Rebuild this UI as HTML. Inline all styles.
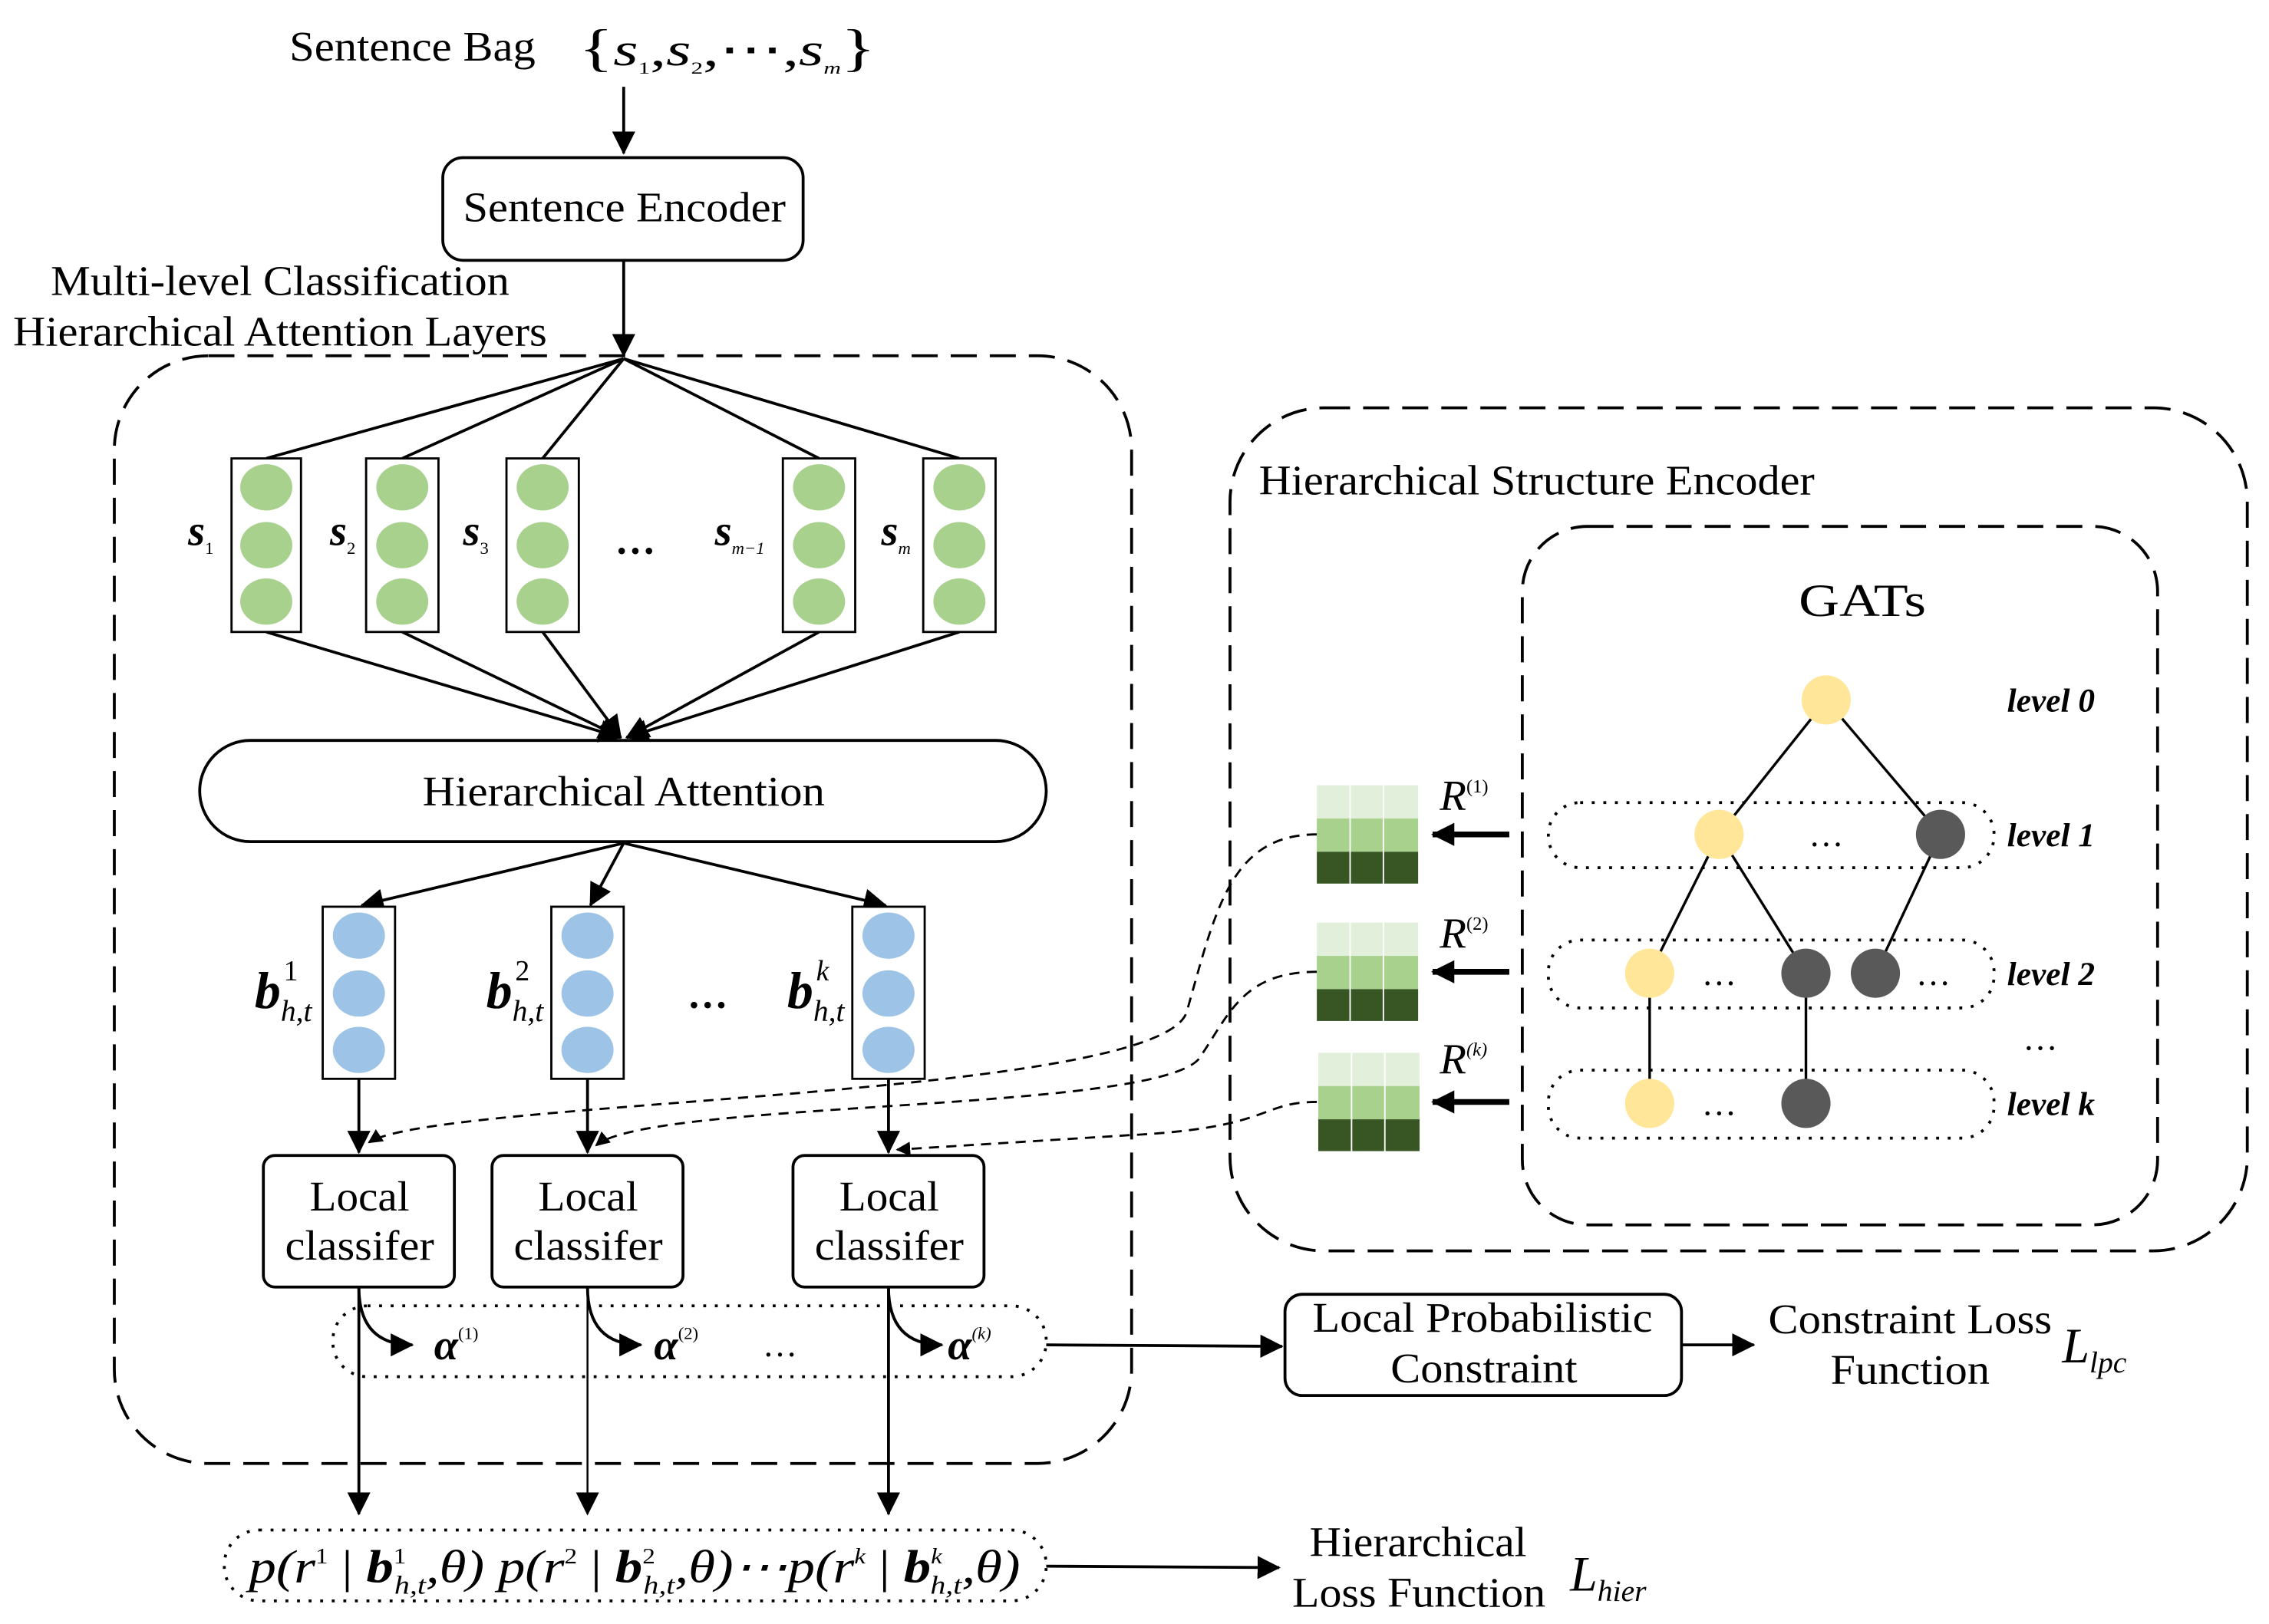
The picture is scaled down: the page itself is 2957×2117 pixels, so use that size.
<!DOCTYPE html>
<html><head><meta charset="utf-8"><style>
html,body{margin:0;padding:0;background:#fff;}
svg{display:block;}
text{font-family:"Liberation Serif",serif;fill:#000;}
</style></head><body>
<svg width="2957" height="2117" viewBox="0 0 1568 1123" preserveAspectRatio="none" xmlns="http://www.w3.org/2000/svg">
<defs>
<marker id="ah" markerWidth="10" markerHeight="10" refX="9" refY="5" orient="auto" markerUnits="userSpaceOnUse"><path d="M0,0 L10,5 L0,10 z" fill="#000"/></marker>
<marker id="ahb" markerWidth="16" markerHeight="16" refX="15" refY="8" orient="auto" markerUnits="userSpaceOnUse"><path d="M0,0 L16,8 L0,16 z" fill="#000"/></marker>
</defs>
<g stroke="#000" fill="none" stroke-width="2">
<line x1="431" y1="60" x2="431" y2="106" marker-end="url(#ahb)"/>
<rect x="306" y="109" width="249" height="71" rx="14"/>
<line x1="431" y1="180" x2="431" y2="246" marker-end="url(#ahb)"/>
<rect x="79" y="246" width="703" height="766" rx="65" stroke-dasharray="18,9"/>
<line x1="431" y1="248" x2="184" y2="317"/>
<line x1="431" y1="248" x2="278" y2="317"/>
<line x1="431" y1="248" x2="375" y2="317"/>
<line x1="431" y1="248" x2="566" y2="317"/>
<line x1="431" y1="248" x2="663" y2="317"/>
<line x1="184" y1="437" x2="429" y2="510" marker-end="url(#ahb)"/>
<line x1="278" y1="437" x2="429" y2="510" marker-end="url(#ahb)"/>
<line x1="375" y1="437" x2="429" y2="510" marker-end="url(#ahb)"/>
<line x1="566" y1="437" x2="433" y2="510" marker-end="url(#ahb)"/>
<line x1="663" y1="437" x2="433" y2="510" marker-end="url(#ahb)"/>
<rect x="138" y="512" width="585" height="70" rx="35"/>
<line x1="431" y1="583" x2="250" y2="626" marker-end="url(#ahb)"/>
<line x1="431" y1="583" x2="408" y2="626" marker-end="url(#ahb)"/>
<line x1="431" y1="583" x2="612" y2="626" marker-end="url(#ahb)"/>
<line x1="248" y1="746" x2="248" y2="797" marker-end="url(#ahb)"/>
<line x1="406" y1="746" x2="406" y2="797" marker-end="url(#ahb)"/>
<line x1="614" y1="746" x2="614" y2="797" marker-end="url(#ahb)"/>
<rect x="182" y="799" width="132" height="91" rx="8"/>
<rect x="340" y="799" width="132" height="91" rx="8"/>
<rect x="548" y="799" width="132" height="91" rx="8"/>
<rect x="230" y="903" width="493" height="49" rx="24" stroke-dasharray="2,6"/>
<path d="M248,890 Q248,930 285,930" marker-end="url(#ahb)"/>
<path d="M406,890 Q406,930 443,930" marker-end="url(#ahb)"/>
<path d="M614,890 Q614,930 651,930" marker-end="url(#ahb)"/>
<line x1="248" y1="890" x2="248" y2="1047" marker-end="url(#ahb)"/>
<line x1="406" y1="890" x2="406" y2="1047" stroke-width="1.3" marker-end="url(#ahb)"/>
<line x1="614" y1="890" x2="614" y2="1047" marker-end="url(#ahb)"/>
<rect x="155" y="1058" width="568" height="49" rx="24" stroke-dasharray="2,6"/>
<line x1="723" y1="1083" x2="884" y2="1084" marker-end="url(#ahb)"/>
<line x1="723" y1="930" x2="886" y2="931" marker-end="url(#ahb)"/>
<rect x="888" y="895" width="274" height="70" rx="12"/>
<line x1="1162" y1="930" x2="1212" y2="930" marker-end="url(#ahb)"/>
<rect x="850" y="282" width="703" height="583" rx="65" stroke-dasharray="18,9"/>
<rect x="1052" y="364" width="439" height="483" rx="45" stroke-dasharray="18,9"/>
<rect x="1070" y="555" width="308" height="45" rx="22" stroke-dasharray="2,6"/>
<rect x="1070" y="650" width="308" height="47" rx="22" stroke-dasharray="2,6"/>
<rect x="1070" y="740" width="308" height="47" rx="22" stroke-dasharray="2,6"/>
<g stroke-width="1.8">
<line x1="1262" y1="484" x2="1188" y2="577"/><line x1="1262" y1="484" x2="1341" y2="577"/>
<line x1="1188" y1="577" x2="1140" y2="673"/><line x1="1188" y1="577" x2="1248" y2="673"/>
<line x1="1341" y1="577" x2="1296" y2="673"/>
<line x1="1140" y1="673" x2="1140" y2="763"/><line x1="1248" y1="673" x2="1248" y2="763"/>
</g>
<g stroke-width="4">
<line x1="1043" y1="577" x2="990" y2="577" marker-end="url(#ahb)"/>
<line x1="1043" y1="672" x2="990" y2="672" marker-end="url(#ahb)"/>
<line x1="1043" y1="762" x2="990" y2="762" marker-end="url(#ahb)"/>
</g>
<g stroke-width="1.5" stroke-dasharray="7,5">
<path d="M910,577 C850,577 840,630 820,700 C800,760 300,760 255,790" marker-end="url(#ah)"/>
<path d="M910,672 C860,672 850,700 830,730 C810,770 450,760 412,792" marker-end="url(#ah)"/>
<path d="M910,762 C870,762 880,780 780,785 L620,795" marker-end="url(#ah)"/>
</g>
</g>
<g stroke="#000" stroke-width="1.5" fill="#fff">
<rect x="160" y="317" width="48" height="120"/><rect x="253" y="317" width="50" height="120"/><rect x="350" y="317" width="50" height="120"/><rect x="541" y="317" width="50" height="120"/><rect x="638" y="317" width="50" height="120"/>
<rect x="223" y="627" width="50" height="119"/><rect x="381" y="627" width="50" height="119"/><rect x="589" y="627" width="50" height="119"/>
</g>
<g fill="#a9d18e">
<ellipse cx="184" cy="337" rx="18" ry="16"/><ellipse cx="184" cy="377" rx="18" ry="16"/><ellipse cx="184" cy="416" rx="18" ry="16"/>
<ellipse cx="278" cy="337" rx="18" ry="16"/><ellipse cx="278" cy="377" rx="18" ry="16"/><ellipse cx="278" cy="416" rx="18" ry="16"/>
<ellipse cx="375" cy="337" rx="18" ry="16"/><ellipse cx="375" cy="377" rx="18" ry="16"/><ellipse cx="375" cy="416" rx="18" ry="16"/>
<ellipse cx="566" cy="337" rx="18" ry="16"/><ellipse cx="566" cy="377" rx="18" ry="16"/><ellipse cx="566" cy="416" rx="18" ry="16"/>
<ellipse cx="663" cy="337" rx="18" ry="16"/><ellipse cx="663" cy="377" rx="18" ry="16"/><ellipse cx="663" cy="416" rx="18" ry="16"/>
</g>
<g fill="#9dc3e6">
<ellipse cx="248" cy="647" rx="18" ry="16"/><ellipse cx="248" cy="687" rx="18" ry="16"/><ellipse cx="248" cy="726" rx="18" ry="16"/>
<ellipse cx="406" cy="647" rx="18" ry="16"/><ellipse cx="406" cy="687" rx="18" ry="16"/><ellipse cx="406" cy="726" rx="18" ry="16"/>
<ellipse cx="614" cy="647" rx="18" ry="16"/><ellipse cx="614" cy="687" rx="18" ry="16"/><ellipse cx="614" cy="726" rx="18" ry="16"/>
</g>
<g fill="#ffe699"><ellipse cx="1262" cy="484" rx="17" ry="17"/><ellipse cx="1188" cy="577" rx="17" ry="17"/><ellipse cx="1140" cy="673" rx="17" ry="17"/><ellipse cx="1140" cy="763" rx="17" ry="17"/></g>
<g fill="#595959"><ellipse cx="1341" cy="577" rx="17" ry="17"/><ellipse cx="1248" cy="673" rx="17" ry="17"/><ellipse cx="1296" cy="673" rx="17" ry="17"/><ellipse cx="1248" cy="763" rx="17" ry="17"/></g>
<g>
<rect x="910" y="543" width="70" height="23" fill="#e2efda"/><rect x="910" y="566" width="70" height="23" fill="#a9d18e"/><rect x="910" y="589" width="70" height="22" fill="#375623"/>
<rect x="910" y="638" width="70" height="23" fill="#e2efda"/><rect x="910" y="661" width="70" height="23" fill="#a9d18e"/><rect x="910" y="684" width="70" height="22" fill="#375623"/>
<rect x="911" y="728" width="70" height="23" fill="#e2efda"/><rect x="911" y="751" width="70" height="23" fill="#a9d18e"/><rect x="911" y="774" width="70" height="22" fill="#375623"/>
<g stroke="#fff" stroke-width="1"><line x1="933" y1="543" x2="933" y2="611"/><line x1="956" y1="543" x2="956" y2="611"/><line x1="933" y1="638" x2="933" y2="706"/><line x1="956" y1="638" x2="956" y2="706"/><line x1="934" y1="728" x2="934" y2="796"/><line x1="957" y1="728" x2="957" y2="796"/></g>
</g>
<g font-size="29" lengthAdjust="spacingAndGlyphs">
<text x="200" y="42" textLength="170" lengthAdjust="spacingAndGlyphs">Sentence Bag</text>
<text x="400" y="45" font-size="36" textLength="205" lengthAdjust="spacingAndGlyphs">{<tspan font-style="italic" font-size="32">s</tspan><tspan font-size="12" dy="6">1</tspan><tspan dy="-6" font-size="32">,</tspan><tspan font-style="italic" font-size="32">s</tspan><tspan font-size="12" dy="6">2</tspan><tspan dy="-6" font-size="32">,⋯,</tspan><tspan font-style="italic" font-size="32">s</tspan><tspan font-size="12" font-style="italic" dy="6">m</tspan><tspan dy="-6">}</tspan></text>
<text x="320" y="153" textLength="223" lengthAdjust="spacingAndGlyphs">Sentence Encoder</text>
<text x="35" y="204" textLength="317" lengthAdjust="spacingAndGlyphs">Multi-level Classification</text>
<text x="9" y="239" textLength="369" lengthAdjust="spacingAndGlyphs">Hierarchical Attention Layers</text>
<text x="292" y="557" textLength="278" lengthAdjust="spacingAndGlyphs">Hierarchical Attention</text>
<text x="214" y="837" textLength="69" lengthAdjust="spacingAndGlyphs">Local</text><text x="197" y="871" textLength="103" lengthAdjust="spacingAndGlyphs">classifer</text>
<text x="372" y="837" textLength="69" lengthAdjust="spacingAndGlyphs">Local</text><text x="355" y="871" textLength="103" lengthAdjust="spacingAndGlyphs">classifer</text>
<text x="580" y="837" textLength="69" lengthAdjust="spacingAndGlyphs">Local</text><text x="563" y="871" textLength="103" lengthAdjust="spacingAndGlyphs">classifer</text>
<text x="907" y="921" textLength="235" lengthAdjust="spacingAndGlyphs">Local Probabilistic</text>
<text x="961" y="956" textLength="129" lengthAdjust="spacingAndGlyphs">Constraint</text>
<text x="1222" y="922" textLength="196" lengthAdjust="spacingAndGlyphs">Constraint Loss</text>
<text x="1265" y="957" textLength="110" lengthAdjust="spacingAndGlyphs">Function</text>
<text x="1425" y="942" font-style="italic" font-size="34">L<tspan font-size="21" dy="7">lpc</tspan></text>
<text x="905" y="1076" textLength="150" lengthAdjust="spacingAndGlyphs">Hierarchical</text>
<text x="893" y="1111" textLength="175" lengthAdjust="spacingAndGlyphs">Loss Function</text>
<text x="1085" y="1100" font-style="italic" font-size="34">L<tspan font-size="21" dy="7">hier</tspan></text>
<text x="870" y="342" textLength="384" lengthAdjust="spacingAndGlyphs">Hierarchical Structure Encoder</text>
<text x="1243" y="426" font-size="32" textLength="88" lengthAdjust="spacingAndGlyphs">GATs</text>
</g>
<g font-size="23" font-style="italic" font-weight="bold">
<text x="1387" y="492">level 0</text><text x="1387" y="585">level 1</text><text x="1387" y="681">level 2</text><text x="1387" y="771">level k</text>
</g>
<g font-size="28" font-weight="bold">
<text x="425" y="383">…</text><text x="475" y="697">…</text>
</g>
<g font-size="24">
<text x="1250" y="585">…</text><text x="1176" y="681">…</text><text x="1324" y="681">…</text><text x="1176" y="771">…</text><text x="1398" y="726">…</text><text x="527" y="938">…</text>
</g>
<g font-style="italic" font-weight="bold" font-size="30">
<text x="130" y="377">s<tspan font-size="12" font-weight="normal" font-style="normal" dy="6">1</tspan></text>
<text x="228" y="377">s<tspan font-size="12" font-weight="normal" font-style="normal" dy="6">2</tspan></text>
<text x="320" y="377">s<tspan font-size="12" font-weight="normal" font-style="normal" dy="6">3</tspan></text>
<text x="494" y="377">s<tspan font-size="12" font-weight="normal" dy="6">m−1</tspan></text>
<text x="609" y="377">s<tspan font-size="12" font-weight="normal" dy="6">m</tspan></text>
<text x="176" y="697" font-size="36">b</text><text x="196" y="678" font-size="20" font-weight="normal" font-style="normal">1</text><text x="194" y="706" font-size="21" font-weight="normal">h,t</text>
<text x="336" y="697" font-size="36">b</text><text x="356" y="678" font-size="20" font-weight="normal" font-style="normal">2</text><text x="354" y="706" font-size="21" font-weight="normal">h,t</text>
<text x="544" y="697" font-size="36">b</text><text x="564" y="678" font-size="20" font-weight="normal">k</text><text x="562" y="706" font-size="21" font-weight="normal">h,t</text>
<text x="300" y="940">α<tspan font-size="12" font-weight="normal" font-style="normal" dy="-14">(1)</tspan></text>
<text x="452" y="940">α<tspan font-size="12" font-weight="normal" font-style="normal" dy="-14">(2)</tspan></text>
<text x="655" y="940">α<tspan font-size="12" font-weight="normal" dy="-14">(k)</tspan></text>
</g>
<g font-size="30" font-style="italic">
<text x="995" y="560">R<tspan font-size="13" font-style="normal" dy="-12">(1)</tspan></text>
<text x="995" y="655">R<tspan font-size="13" font-style="normal" dy="-12">(2)</tspan></text>
<text x="995" y="742">R<tspan font-size="13" dy="-12">(k)</tspan></text>
</g>
<text x="172" y="1094" font-size="32" font-style="italic" textLength="533" lengthAdjust="spacingAndGlyphs">p(r<tspan font-size="15" font-style="normal" dy="-13">1</tspan><tspan dy="13" font-style="normal"> | </tspan><tspan font-weight="bold">b</tspan><tspan font-size="15" font-style="normal" dy="-13">1</tspan><tspan font-size="18" dy="21" dx="-7">h,t</tspan><tspan dy="-8">,θ) p(r</tspan><tspan font-size="15" font-style="normal" dy="-13">2</tspan><tspan dy="13" font-style="normal"> | </tspan><tspan font-weight="bold">b</tspan><tspan font-size="15" font-style="normal" dy="-13">2</tspan><tspan font-size="18" dy="21" dx="-7">h,t</tspan><tspan dy="-8">,θ)⋯p(r</tspan><tspan font-size="15" dy="-13">k</tspan><tspan dy="13" font-style="normal"> | </tspan><tspan font-weight="bold">b</tspan><tspan font-size="15" dy="-13">k</tspan><tspan font-size="18" dy="21" dx="-7">h,t</tspan><tspan dy="-8">,θ)</tspan></text>
</svg>
</body></html>
